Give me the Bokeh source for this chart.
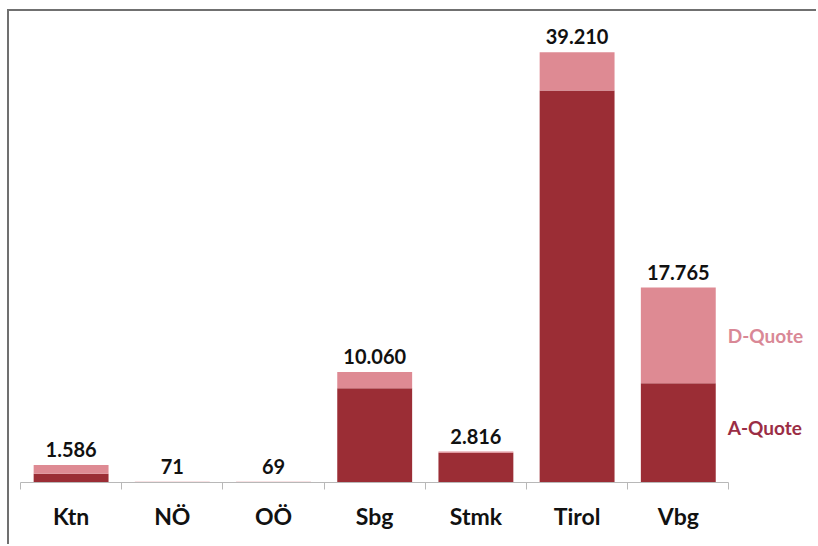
from bokeh.plotting import figure
from bokeh.models import ColumnDataSource, Range1d, FixedTicker
from bokeh.core.properties import value
from bokeh.embed import file_html
from bokeh.resources import INLINE

# ---- data ----
categories = ["Ktn", "NÖ", "OÖ", "Sbg", "Stmk", "Tirol", "Vbg"]
a_quote = [800, 50, 50, 8590, 2700, 35720, 9050]
d_quote = [786, 21, 19, 1470, 116, 3490, 8715]
totals = [1586, 71, 69, 10060, 2816, 39210, 17765]
series_names = ["A-Quote", "D-Quote"]

# ---- styling ----
A_COLOR = "#9b2d35"
D_COLOR = "#de8a93"
FONT = "Lato"
BAR_W = 0.74
PX_X = 101.2        # pixels per category
PX_Y = 0.010975     # pixels per unit

xs = list(range(len(categories)))
labels = [f"{t:,}".replace(",", ".") for t in totals]
src = ColumnDataSource(dict(x=xs, a=a_quote, d=d_quote, tot=totals, lab=labels))

W, H = 809, 535
BOTTOM = 64
x_start = -0.5 - 11 / PX_X
x_end = x_start + W / PX_X
y_end = (H - BOTTOM) / PX_Y

p = figure(width=W, height=H, output_backend="svg", toolbar_location=None,
           x_range=Range1d(x_start, x_end), y_range=Range1d(0, y_end),
           min_border_left=0, min_border_right=0, min_border_top=0,
           min_border_bottom=BOTTOM)
p.margin = (11, 0, 0, 9)
p.styles = {"box-shadow": "-2px -2px 0px 0px #707070"}
p.outline_line_color = None
p.background_fill_color = "white"
p.border_fill_color = "white"
p.xgrid.visible = False
p.ygrid.visible = False
p.yaxis.visible = False

p.vbar_stack(["a", "d"], x="x", width=BAR_W, source=src,
             color=[A_COLOR, D_COLOR], line_color=None)

p.text(x="x", y="tot", text="lab", source=src, text_font=value(FONT),
       text_font_style="bold", text_font_size="20px", text_color="#111111",
       text_align="center", text_baseline="bottom", y_offset=-8)

# series-name labels beside the last bar
last = len(categories) - 1
p.text(x=[xs[last] + BAR_W / 2], y=[a_quote[last] + d_quote[last] / 2], text=[series_names[1]],
       text_font=value(FONT), text_font_style="bold", text_font_size="19px",
       text_color="#d98896", text_align="left", text_baseline="middle", x_offset=12)
p.text(x=[xs[last] + BAR_W / 2], y=[a_quote[last] / 2], text=[series_names[0]],
       text_font=value(FONT), text_font_style="bold", text_font_size="19px",
       text_color="#9b2d45", text_align="left", text_baseline="middle", x_offset=12, y_offset=-5)

ax = p.xaxis[0]
ax.ticker = FixedTicker(ticks=xs, minor_ticks=[i - 0.5 for i in xs] + [xs[-1] + 0.5])
ax.major_label_overrides = {i: c for i, c in zip(xs, categories)}
ax.bounds = (-0.5, xs[-1] + 0.5)
ax.axis_line_color = "#b8b8b8"
ax.axis_line_width = 1
ax.major_tick_line_color = None
ax.major_tick_out = 0
ax.major_tick_in = 0
ax.minor_tick_line_color = "#b8b8b8"
ax.minor_tick_out = 7
ax.minor_tick_in = 0
ax.major_label_standoff = 12
ax.major_label_text_font = FONT
ax.major_label_text_font_style = "bold"
ax.major_label_text_font_size = "23px"
ax.major_label_text_color = "#111111"

open("out.html", "w").write(file_html(p, INLINE))
